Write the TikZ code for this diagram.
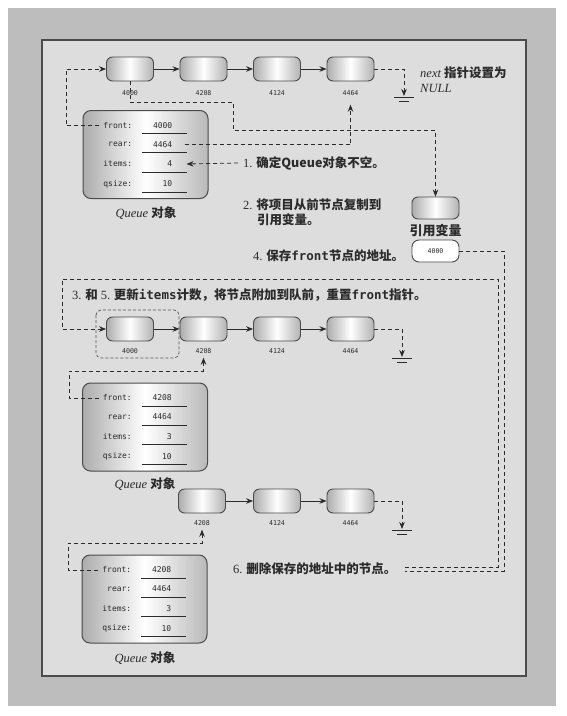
\documentclass[tikz,border=0pt]{standalone}
\usepackage{fontspec}
\setmainfont{Liberation Serif}
\setmonofont{DejaVu Sans Mono}
\newfontfamily\cjk{Noto Sans CJK SC}
\usetikzlibrary{arrows.meta,calc}
\definecolor{panel}{HTML}{DDDDDD}
\definecolor{outer}{HTML}{BDBDBD}
\definecolor{ink}{HTML}{2B2B2B}
\newcommand\zhnum[1]{{\rmfamily\mdseries #1}}
\newcommand\code[1]{{\ttfamily\bfseries #1}}
\newcommand\qfields[5]{%
 \begin{scope}[shift={(#1.center)}]
  \node[fld] (#1-fl) at (-13,-29) {front:};
  \node[fld] (#1-rl) at (-13,-10) {rear:};
  \node[fld] (#1-il) at (-13,9.5) {items:};
  \node[fld] (#1-ql) at (-13,29.5) {qsize:};
  \node[fld] (#1-fv) at (27,-29) {#2};
  \node[fld] (#1-rv) at (27,-10) {#3};
  \node[fld] (#1-iv) at (27,9.5) {#4};
  \node[fld] (#1-qv) at (27,29.5) {#5};
  \foreach \yy in {-21,-2,17.5,37.5} \draw[uline] (-3.5,\yy) -- (41.5,\yy);
 \end{scope}}
\newcommand\groundsym[1]{%
 \draw[gline] ([xshift=-10pt]#1) -- ([xshift=10pt]#1);
 \draw[gline] ([xshift=-5pt,yshift=-4.5pt]#1) -- ([xshift=5pt,yshift=-4.5pt]#1);}
\tikzset{
 lnode/.style={draw=ink!85, line width=0.9pt, rounded corners=6pt, minimum width=47pt, minimum height=24pt, left color=gray!65, right color=gray!60, middle color=white, inner sep=0pt},
 qbox/.style={draw=ink!85, line width=1pt, rounded corners=8pt, minimum width=125pt, minimum height=88pt, left color=gray!65, right color=gray!55, middle color=white, inner sep=0pt},
 addr/.style={font=\ttfamily\fontsize{6.6}{8}\selectfont, text=ink, inner sep=1pt},
 fld/.style={font=\ttfamily\fontsize{8}{9}\selectfont, text=ink, inner sep=0pt, anchor=east},
 uline/.style={line width=0.9pt, draw=ink},
 gline/.style={line width=1pt, draw=ink},
 dashline/.style={draw=ink, line width=0.8pt, dash pattern=on 4pt off 3pt},
 tip/.style={-{Stealth[length=7pt,width=5.5pt]}},
 link/.style={draw=ink, line width=0.8pt, -{Stealth[length=7pt,width=5.5pt]}},
 note/.style={font=\cjk\bfseries\fontsize{12.5}{15}\selectfont, text=ink, anchor=west, inner sep=0pt},
 caption/.style={font=\fontsize{12.5}{15}\selectfont, text=ink, inner sep=0pt},
}
\begin{document}
\begin{tikzpicture}[x=1pt,y=-1pt]
\useasboundingbox (0,0) rectangle (566,716);
\fill[white] (0,0) rectangle (566,716);
\fill[outer] (8,8) rectangle (556,706);
\draw[fill=panel, draw=ink!85, line width=1.3pt] (42,40) rectangle (526,676);

% ---------- row 1
\node[lnode] (r1a) at (130,69) {};
\node[lnode] (r1b) at (203.5,69) {};
\node[lnode] (r1c) at (277,69) {};
\node[lnode] (r1d) at (350.5,69) {};
\node[addr] (r1al) at (130,93) {4000};
\node[addr] (r1bl) at (203.5,93) {4208};
\node[addr] (r1cl) at (277,93) {4124};
\node[addr] (r1dl) at (350.5,93) {4464};
\draw[link] (r1a) -- (r1b);
\draw[link] (r1b) -- (r1c);
\draw[link] (r1c) -- (r1d);
\coordinate (g1) at (404,97);
\draw[dashline,tip,shorten >=1pt] (r1d.east) -| (g1);
\groundsym{g1}
\node[caption, anchor=west] (nexttxt) at (420,73) {\itshape next {\cjk\bfseries\upshape 指针设置为}};
\node[caption, anchor=west] (nulltxt) at (420,88) {\itshape NULL};

% ---------- queue 1
\node[qbox] (q1) at (145.5,154.5) {};
\qfields{q1}{4000}{4464}{4}{10}
\node[caption] (q1cap) at (146,213) {\itshape Queue {\cjk\bfseries\upshape 对象}};

\draw[dashline,tip] ([xshift=-4pt]q1-fl.west) -| (66,69) -- (r1a.west);
\draw[dashline,tip] ([xshift=12pt]q1-rv.east) -| ([yshift=-8pt]r1dl.south);

% ---------- steps 1,2,4
\node[note] (step1) at (243,163) {\zhnum{1.} 确定Queue对象不空。};
\draw[dashline,tip] ([xshift=-5pt]step1.west) -- ([xshift=14pt]q1-iv.east);
\node[note] (step2a) at (243,205) {\zhnum{2.} 将项目从前节点复制到};
\node[note] (step2b) at (257,220) {引用变量。};

\node[lnode, minimum height=22pt] (refv) at (435.5,208) {};
\node[note, anchor=center, font=\cjk\bfseries\fontsize{13}{15}\selectfont] (refvlab) at (435.5,231) {引用变量};
\node[draw=ink!85, line width=0.9pt, rounded corners=7pt, fill=white, minimum width=47pt, minimum height=22pt, font=\ttfamily\fontsize{6.6}{8}\selectfont, text=ink] (refval) at (435.5,251) {4000};
\draw[dashline,tip] (r1a.south) |- (233,102) |- (refv.north |- 0,130) -- (refv.north);

\node[note] (step4) at (253,256) {\zhnum{4.} 保存\code{front}节点的地址。};

% ---------- step 3/5
\node[note] (step3) at (72,295) {\zhnum{3.} 和 \zhnum{5.} 更新\code{items}计数，将节点附加到队前，重置\code{front}指针。};

% ---------- row 2
\node[lnode] (r2a) at (130,329) {};
\node[lnode] (r2b) at (203.5,329) {};
\node[lnode] (r2c) at (277,329) {};
\node[lnode] (r2d) at (350.5,329) {};
\node[addr] (r2al) at (130,351) {4000};
\node[addr] (r2bl) at (203.5,351) {4208};
\node[addr] (r2cl) at (277,351) {4124};
\node[addr] (r2dl) at (350.5,351) {4464};
\draw[link] (r2a) -- (r2b);
\draw[link] (r2b) -- (r2c);
\draw[link] (r2c) -- (r2d);
\coordinate (g2) at (402,358);
\draw[dashline,tip,shorten >=1pt] (r2d.east) -| (g2);
\groundsym{g2}
\draw[draw=ink!80, line width=0.7pt, dash pattern=on 3pt off 2pt, rounded corners=5pt] (96,310) rectangle (179,358);

% ---------- queue 2
\node[qbox] (q2) at (145,427) {};
\qfields{q2}{4208}{4464}{3}{10}
\node[caption] (q2cap) at (145,484) {\itshape Queue {\cjk\bfseries\upshape 对象}};
\draw[dashline,tip] ([xshift=-4pt]q2-fl.west) -| (69,371) -| ([yshift=-3pt]r2bl.south);

% ---------- row 3
\node[lnode] (r3b) at (202,501) {};
\node[lnode] (r3c) at (277,501) {};
\node[lnode] (r3d) at (350.5,501) {};
\node[addr] (r3bl) at (202,523) {4208};
\node[addr] (r3cl) at (277,523) {4124};
\node[addr] (r3dl) at (350.5,523) {4464};
\draw[link] (r3b) -- (r3c);
\draw[link] (r3c) -- (r3d);
\coordinate (g3) at (402,530);
\draw[dashline,tip,shorten >=1pt] (r3d.east) -| (g3);
\groundsym{g3}

% ---------- queue 3
\node[qbox] (q3) at (144.5,599) {};
\qfields{q3}{4208}{4464}{3}{10}
\node[caption] (q3cap) at (145,658) {\itshape Queue {\cjk\bfseries\upshape 对象}};
\draw[dashline,tip] ([xshift=-4pt]q3-fl.west) -| (68,543) -| ([yshift=-3pt]r3bl.south);

% ---------- step 6 and long connectors
\node[note] (step6) at (233,569) {\zhnum{6.} 删除保存的地址中的节点。};
\coordinate (s6a) at ([xshift=8pt,yshift=2pt]step6.east);
\coordinate (s6b) at ([xshift=8pt,yshift=-2pt]step6.east);
\draw[dashline] (refval.east) -- (504,251) |- (s6b);
\draw[dashline,tip] (s6a) -| (498,279) -| (62,329) -- (r2a.west);
\end{tikzpicture}
\end{document}
